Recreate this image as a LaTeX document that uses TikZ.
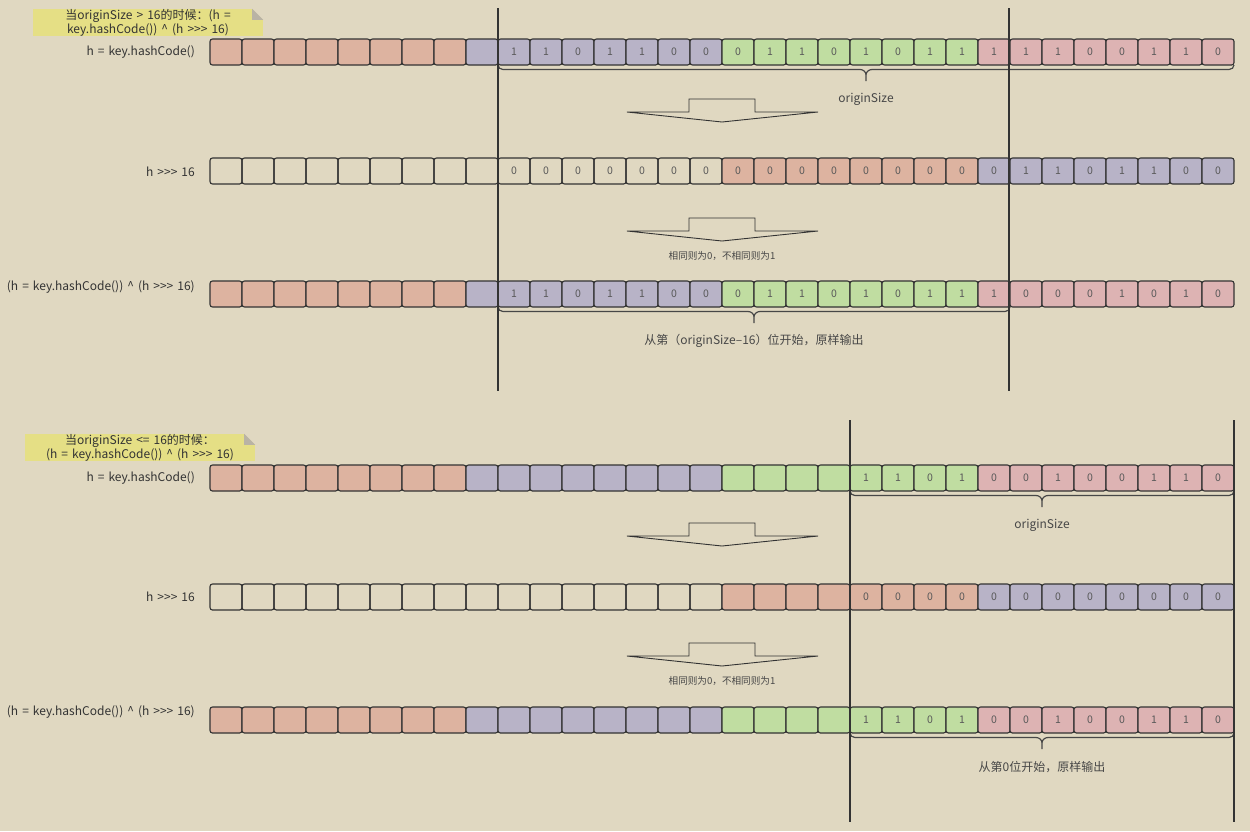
\documentclass[tikz,border=0pt]{standalone}
\usepackage{fontspec}
\setmainfont{Noto Sans CJK SC}[WordSpace=1.5]
\usetikzlibrary{calc}

\definecolor{bgbeige}{HTML}{E0D8C1}
\definecolor{hashorange}{HTML}{DDB3A0}
\definecolor{hashpurple}{HTML}{B8B3C7}
\definecolor{hashgreen}{HTML}{C0DDA1}
\definecolor{hashpink}{HTML}{DDB3B3}
\definecolor{noteyellow}{HTML}{E5DF85}
\definecolor{foldgray}{HTML}{B9B3A5}
\definecolor{ink}{HTML}{333333}

% >>> without the guillemet ligature
\newcommand\shr{>\kern0pt>\kern0pt>}

\tikzset{
    bit/.style={draw=ink, line width=1.1pt, rounded corners=2.5pt,
        minimum width=32pt, minimum height=26pt, inner sep=0pt, outer sep=0pt,
        font=\fontsize{10.5}{10.5}\selectfont, text=black!65},
    rowlabel/.style={anchor=east, inner sep=0pt, font=\fontsize{12}{14}\selectfont, text=ink},
    note/.style={fill=noteyellow, minimum width=230pt, minimum height=27pt, inner sep=0pt,
        align=center, font=\fontsize{12}{14}\selectfont, text=ink},
    divider/.style={draw=ink, line width=1.3pt},
    bracestyle/.style={draw=ink!90, line width=1.2pt},
    bracelabel/.style={font=\fontsize{12}{14}\selectfont, text=ink!90},
    arrowline/.style={draw=ink, line width=0.9pt, line join=miter},
    smalllabel/.style={font=\fontsize{9.6}{11}\selectfont, text=ink!90},
    pics/shiftarrow/.style={code={
        \draw[arrowline] (-95,0) -- (-33,0) -- (-33,-13) -- (33,-13) -- (33,0)
            -- (96,0) -- (0,10) -- cycle;
    }}
}

% brace below a run of cells, label underneath
\newcommand\bitbrace[4]{%
    \draw[bracestyle] let \p1=(#1.south west), \p2=(#2.south east),
        \p3=($(#1.south west)!0.5!(#2.south east)$) in
        (\x1,\y1) to[out=-90,in=180] (\x1+5pt,\y1-4.5pt) -- (\x3-6pt,\y1-4.5pt)
        to[out=0,in=90] (\x3,\y1-10pt) -- (\x3,\y1-16pt)
        (\x3,\y1-10pt) to[out=90,in=180] (\x3+6pt,\y1-4.5pt) -- (\x2-5pt,\y1-4.5pt)
        to[out=0,in=-90] (\x2,\y1)
        (\x3,\y1-34pt) node[bracelabel] (#3) {#4};%
}

\begin{document}
\begin{tikzpicture}[x=1pt, y=-1pt]
    \useasboundingbox (0,0) rectangle (1250,831);
    \fill[bgbeige] (0,0) rectangle (1250,831);

    %% originSize > 16
    \node[note] (note1) at (148,22.5) {当originSize > 16的时候：(h =\\key.hashCode()) \textasciicircum{} (h \shr{} 16)};
    \fill[bgbeige] (note1.north east) -- ++(-11pt,0) -- ++(11pt,-11pt) -- cycle;
    \fill[foldgray] ([xshift=-11pt]note1.north east) -- ++(11pt,-11pt) -- ++(-11pt,0) -- cycle;

    % h = key.hashCode()
    \node[rowlabel] (la) at (195,52) {h = key.hashCode()};
    \foreach \i in {0,...,7} \node[bit, fill=hashorange] (a\i) at ({226+32*\i},52) {};
    \node[bit, fill=hashpurple] (a8) at (482,52) {};
    \foreach \v [count=\i from 9] in {1,1,0,1,1,0,0} \node[bit, fill=hashpurple] (a\i) at ({226+32*\i},52) {\v};
    \foreach \v [count=\i from 16] in {0,1,1,0,1,0,1,1} \node[bit, fill=hashgreen] (a\i) at ({226+32*\i},52) {\v};
    \foreach \v [count=\i from 24] in {1,1,1,0,0,1,1,0} \node[bit, fill=hashpink] (a\i) at ({226+32*\i},52) {\v};
    \bitbrace{a9}{a31}{sizea}{originSize}

    \pic (shifta) at (722,112) {shiftarrow};

    % h >>> 16
    \node[rowlabel] (lb) at (195,172) {h \shr{} 16};
    \foreach \i in {0,...,8} \node[bit] (b\i) at ({226+32*\i},171) {};
    \foreach \i in {9,...,15} \node[bit] (b\i) at ({226+32*\i},171) {0};
    \foreach \i in {16,...,23} \node[bit, fill=hashorange] (b\i) at ({226+32*\i},171) {0};
    \node[bit, fill=hashpurple] (b24) at (994,171) {0};
    \foreach \v [count=\i from 25] in {1,1,0,1,1,0,0} \node[bit, fill=hashpurple] (b\i) at ({226+32*\i},171) {\v};

    \pic (xora) at (722,231) {shiftarrow};
    \node[smalllabel] (rulea) at (722,256) {相同则为0，不相同则为1};

    % xor
    \node[rowlabel] (lc) at (195,287) {(h = key.hashCode()) \textasciicircum{} (h \shr{} 16)};
    \foreach \i in {0,...,7} \node[bit, fill=hashorange] (c\i) at ({226+32*\i},294) {};
    \node[bit, fill=hashpurple] (c8) at (482,294) {};
    \foreach \v [count=\i from 9] in {1,1,0,1,1,0,0} \node[bit, fill=hashpurple] (c\i) at ({226+32*\i},294) {\v};
    \foreach \v [count=\i from 16] in {0,1,1,0,1,0,1,1} \node[bit, fill=hashgreen] (c\i) at ({226+32*\i},294) {\v};
    \foreach \v [count=\i from 24] in {1,0,0,0,1,0,1,0} \node[bit, fill=hashpink] (c\i) at ({226+32*\i},294) {\v};
    \bitbrace{c9}{c24}{outa}{从第（originSize–16）位开始，原样输出}

    \draw[divider] (498,8) -- (498,391);
    \draw[divider] (1009,8) -- (1009,391);

    %% originSize <= 16
    \node[note] (note2) at (140,447.5) {当originSize <= 16的时候：\\(h = key.hashCode()) \textasciicircum{} (h \shr{} 16)};
    \fill[bgbeige] (note2.north east) -- ++(-11pt,0) -- ++(11pt,-11pt) -- cycle;
    \fill[foldgray] ([xshift=-11pt]note2.north east) -- ++(11pt,-11pt) -- ++(-11pt,0) -- cycle;

    % h = key.hashCode()
    \node[rowlabel] (ld) at (195,478) {h = key.hashCode()};
    \foreach \i in {0,...,7} \node[bit, fill=hashorange] (d\i) at ({226+32*\i},478) {};
    \foreach \i in {8,...,15} \node[bit, fill=hashpurple] (d\i) at ({226+32*\i},478) {};
    \foreach \i in {16,...,19} \node[bit, fill=hashgreen] (d\i) at ({226+32*\i},478) {};
    \foreach \v [count=\i from 20] in {1,1,0,1} \node[bit, fill=hashgreen] (d\i) at ({226+32*\i},478) {\v};
    \foreach \v [count=\i from 24] in {0,0,1,0,0,1,1,0} \node[bit, fill=hashpink] (d\i) at ({226+32*\i},478) {\v};
    \bitbrace{d20}{d31}{sizeb}{originSize}

    \pic (shiftb) at (722,536) {shiftarrow};

    % h >>> 16
    \node[rowlabel] (le) at (195,597) {h \shr{} 16};
    \foreach \i in {0,...,15} \node[bit] (e\i) at ({226+32*\i},597) {};
    \foreach \i in {16,...,19} \node[bit, fill=hashorange] (e\i) at ({226+32*\i},597) {};
    \foreach \i in {20,...,23} \node[bit, fill=hashorange] (e\i) at ({226+32*\i},597) {0};
    \foreach \i in {24,...,31} \node[bit, fill=hashpurple] (e\i) at ({226+32*\i},597) {0};

    \pic (xorb) at (722,656) {shiftarrow};
    \node[smalllabel] (ruleb) at (722,681) {相同则为0，不相同则为1};

    % xor
    \node[rowlabel] (lf) at (195,712) {(h = key.hashCode()) \textasciicircum{} (h \shr{} 16)};
    \foreach \i in {0,...,7} \node[bit, fill=hashorange] (f\i) at ({226+32*\i},720) {};
    \foreach \i in {8,...,15} \node[bit, fill=hashpurple] (f\i) at ({226+32*\i},720) {};
    \foreach \i in {16,...,19} \node[bit, fill=hashgreen] (f\i) at ({226+32*\i},720) {};
    \foreach \v [count=\i from 20] in {1,1,0,1} \node[bit, fill=hashgreen] (f\i) at ({226+32*\i},720) {\v};
    \foreach \v [count=\i from 24] in {0,0,1,0,0,1,1,0} \node[bit, fill=hashpink] (f\i) at ({226+32*\i},720) {\v};
    \bitbrace{f20}{f31}{outb}{从第0位开始，原样输出}

    \draw[divider] (850,420) -- (850,822);
    \draw[divider] (1234,420) -- (1234,822);
\end{tikzpicture}
\end{document}
